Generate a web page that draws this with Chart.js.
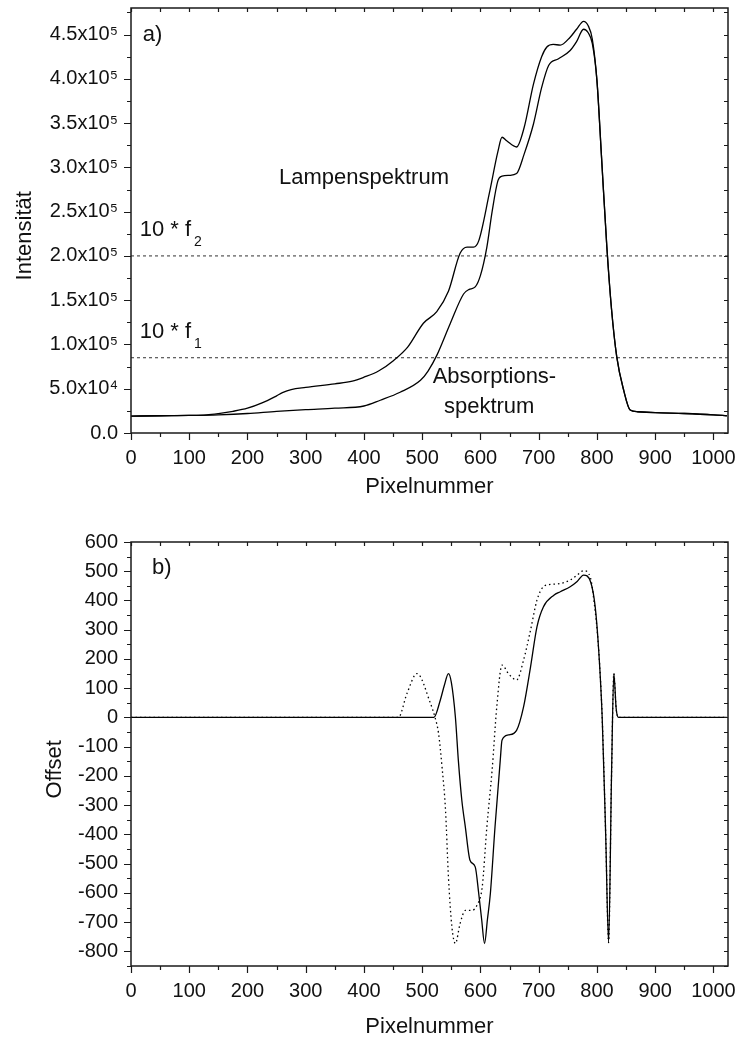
<!DOCTYPE html>
<html>
<head>
<meta charset="utf-8">
<script src="https://cdn.jsdelivr.net/npm/chart.js@4.4.1/dist/chart.umd.min.js"></script>
<style>
  body { margin: 0; background: #fff; }
  canvas { display: block; }
</style>
</head>
<body>
<canvas id="spektrum" width="737" height="500"></canvas>
<canvas id="offset" width="737" height="541"></canvas>
<script>
// a) Lampenspektrum / Absorptionsspektrum
var lampX = [0, 50, 100, 130, 150, 175, 200, 225, 250, 260, 275, 300, 350, 380, 400, 425, 451, 475, 502, 525, 545, 565, 577, 588, 597, 615, 630, 637, 645, 662, 675, 691, 705, 714, 725, 737, 754, 765, 777, 785, 792, 800, 808, 817, 825, 834, 846, 857, 870, 900, 950, 1000, 1023];
var lampY = [19000, 19500, 19800, 20500, 22000, 24500, 28000, 34000, 42000, 45500, 49000, 51500, 55500, 58500, 63000, 70000, 82000, 97000, 124000, 137000, 160000, 203000, 210000, 210000, 217000, 270000, 318000, 334000, 330000, 323000, 345000, 394000, 425000, 436000, 439000, 438000, 447000, 456000, 465000, 460000, 445000, 398000, 310000, 210000, 140000, 86000, 48000, 26000, 24000, 23000, 22000, 20500, 19500];

var absX = [0, 50, 100, 150, 200, 250, 300, 350, 400, 428, 462, 497, 510, 525, 548, 571, 580, 591, 600, 611, 620, 630, 637, 650, 662, 675, 691, 705, 717, 734, 754, 765, 777, 785, 792, 800, 808, 817, 825, 834, 846, 857, 870, 900, 950, 1000, 1023];
var absY = [19000, 19500, 19800, 20500, 22000, 24500, 26400, 28000, 30500, 37000, 46000, 59500, 70000, 87700, 123500, 157000, 162000, 165000, 178000, 210000, 250000, 285000, 290000, 291000, 293000, 315000, 349000, 390000, 415000, 422600, 432000, 442000, 456000, 452000, 440000, 398000, 310000, 210000, 140000, 86000, 48000, 26000, 24000, 23000, 22000, 20500, 19500];

var f1 = 85000;
var f2 = 200000;

// b) Offset
var offX = [0, 520, 531, 538, 545, 550, 557, 562, 568, 574, 582, 591, 597, 602, 607, 612, 617, 625, 634, 637, 648, 662, 674, 686, 697, 708, 726, 737, 754, 766, 777, 789, 797, 803, 809, 815, 820, 825, 829, 833, 837, 1023];
var offY = [0, 0, 59, 110, 150, 120, 0, -146, -283, -374, -488, -511, -602, -690, -773, -690, -602, -374, -146, -78, -60, -44, 36, 173, 310, 378, 418, 430, 447, 465, 487, 464, 378, 230, 0, -400, -770, -200, 150, 30, 0, 0];

var dotX = [0, 459, 474, 491, 514, 522, 528, 534, 540, 545, 551, 557, 565, 574, 585, 594, 603, 611, 620, 628, 637, 648, 662, 674, 686, 697, 708, 720, 737, 754, 766, 777, 789, 794, 803, 809, 815, 820, 825, 829, 833, 837, 1023];
var dotY = [0, 0, 83, 150, 49, 0, -54, -169, -317, -545, -717, -773, -705, -660, -660, -642, -580, -374, -180, 36, 179, 150, 128, 196, 299, 401, 447, 455, 458, 470, 487, 502, 476, 413, 230, 0, -400, -770, -200, 150, 30, 0, 0];

var pixelTicks = [0, 100, 200, 300, 400, 500, 600, 700, 800, 900, 1000];
var intTicks = [0, 50000, 100000, 150000, 200000, 250000, 300000, 350000, 400000, 450000];
var intTickLabels = ['0.0', '5.0x10⁴', '1.0x10⁵', '1.5x10⁵', '2.0x10⁵', '2.5x10⁵', '3.0x10⁵', '3.5x10⁵', '4.0x10⁵', '4.5x10⁵'];
var offTicks = [-800, -700, -600, -500, -400, -300, -200, -100, 0, 100, 200, 300, 400, 500, 600];

var FONT = '"Liberation Sans", Arial, sans-serif';

function pts(xs, ys) {
  return xs.map(function (x, i) { return { x: x, y: ys[i] }; });
}

// box round the plot plus major/minor tick marks
var frame = {
  id: 'frame',
  afterDraw: function (chart, args, o) {
    var ctx = chart.ctx, a = chart.chartArea;
    var xs = chart.scales.x, ys = chart.scales.y;
    ctx.save();
    ctx.strokeStyle = '#1a1a1a';
    ctx.lineWidth = 1.5;
    ctx.strokeRect(a.left, a.top, a.right - a.left, a.bottom - a.top);
    ctx.lineWidth = 1.2;
    ctx.beginPath();
    for (var v = 0; v <= xs.max; v += o.xMinor) {
      var px = Math.round(xs.getPixelForValue(v)) + 0.5;
      var big = v % o.xMajor === 0;
      ctx.moveTo(px, a.bottom); ctx.lineTo(px, a.bottom + (big ? 7 : 4));
      ctx.moveTo(px, a.top); ctx.lineTo(px, a.top + 4);
    }
    for (var w = ys.min; w <= ys.max; w += o.yMinor) {
      var py = Math.round(ys.getPixelForValue(w)) + 0.5;
      var major = w % o.yMajor === 0;
      ctx.moveTo(a.left, py); ctx.lineTo(a.left - (major ? 7 : 4), py);
      ctx.moveTo(a.right, py); ctx.lineTo(a.right - 4, py);
    }
    ctx.stroke();
    ctx.restore();
  }
};

// text labels placed in data coordinates
var notes = {
  id: 'notes',
  afterDatasetsDraw: function (chart, args, o) {
    var ctx = chart.ctx, xs = chart.scales.x, ys = chart.scales.y;
    ctx.save();
    ctx.fillStyle = '#111';
    ctx.textBaseline = 'middle';
    o.items.forEach(function (n) {
      var px = xs.getPixelForValue(n.x), py = ys.getPixelForValue(n.y);
      ctx.font = '22px ' + FONT;
      ctx.textAlign = n.align || 'left';
      ctx.fillText(n.text, px, py);
      if (n.sub) {
        var tw = ctx.measureText(n.text).width;
        ctx.font = '14px ' + FONT;
        ctx.textAlign = 'left';
        ctx.fillText(n.sub, px + tw + 3, py + 12);
      }
    });
    ctx.restore();
  }
};

function line(data, dash) {
  return {
    data: data,
    borderColor: '#000',
    borderWidth: 1.3,
    borderDash: dash || [],
    pointRadius: 0,
    fill: false,
    cubicInterpolationMode: 'monotone'
  };
}

function xScale(height, titlePad) {
  return {
    type: 'linear',
    min: 0,
    max: 1025,
    afterBuildTicks: function (s) { s.ticks = pixelTicks.map(function (v) { return { value: v }; }); },
    afterFit: function (s) { s.height = height; s.paddingLeft = 0; s.paddingRight = 0; },
    grid: { display: false, drawTicks: false },
    border: { display: false },
    ticks: {
      color: '#111', font: { size: 20, family: FONT }, padding: 13, maxRotation: 0, autoSkip: false,
      callback: function (v) { return String(v); }
    },
    title: { display: true, text: 'Pixelnummer', color: '#111', font: { size: 22, family: FONT }, padding: { top: 0, bottom: titlePad } }
  };
}

var spektrumLines = [
  line(pts(lampX, lampY)),
  line(pts(absX, absY)),
  { data: [{ x: 0, y: f2 }, { x: 1025, y: f2 }], borderColor: '#333', borderWidth: 1, borderDash: [3, 3], pointRadius: 0 },
  { data: [{ x: 0, y: f1 }, { x: 1025, y: f1 }], borderColor: '#333', borderWidth: 1, borderDash: [3, 3], pointRadius: 0 }
];

new Chart('spektrum', {
  type: 'line',
  data: { datasets: spektrumLines },
  options: {
    responsive: false,
    animation: false,
    layout: { padding: { top: 8, right: 9, left: 0, bottom: 0 } },
    plugins: {
      legend: { display: false },
      tooltip: { enabled: false },
      frame: { xMajor: 100, xMinor: 50, yMajor: 50000, yMinor: 25000 },
      notes: {
        items: [
          { text: 'a)', x: 20, y: 450000 },
          { text: '10 * f', sub: '2', x: 15, y: 229000 },
          { text: '10 * f', sub: '1', x: 15, y: 114000 },
          { text: 'Lampenspektrum', x: 400, y: 288000, align: 'center' },
          { text: 'Absorptions-', x: 624, y: 63000, align: 'center' },
          { text: 'spektrum', x: 615, y: 29300, align: 'center' }
        ]
      }
    },
    scales: {
      x: xScale(67, 0),
      y: {
        type: 'linear',
        min: 0,
        max: 480000,
        afterBuildTicks: function (s) { s.ticks = intTicks.map(function (v) { return { value: v }; }); },
        afterFit: function (s) { s.width = 131; s.paddingTop = 0; s.paddingBottom = 0; },
        grid: { display: false, drawTicks: false },
        border: { display: false },
        ticks: {
          color: '#111',
          font: { size: 20, family: FONT },
          padding: 13,
          callback: function (v) { return intTickLabels[intTicks.indexOf(v)]; }
        },
        title: { display: true, text: 'Intensität     ', color: '#111', font: { size: 22, family: FONT }, padding: { top: 12, bottom: 0 } }
      }
    }
  },
  plugins: [frame, notes]
});

new Chart('offset', {
  type: 'line',
  data: {
    datasets: [
      line(pts(offX, offY)),
      line(pts(dotX, dotY), [1.5, 3])
    ]
  },
  options: {
    responsive: false,
    animation: false,
    layout: { padding: { top: 42, right: 9, left: 0, bottom: 0 } },
    plugins: {
      legend: { display: false },
      tooltip: { enabled: false },
      frame: { xMajor: 100, xMinor: 50, yMajor: 100, yMinor: 50 },
      notes: { items: [{ text: 'b)', x: 36, y: 511 }] }
    },
    scales: {
      x: xScale(75, 1),
      y: {
        type: 'linear',
        min: -850,
        max: 600,
        afterBuildTicks: function (s) { s.ticks = offTicks.map(function (v) { return { value: v }; }); },
        afterFit: function (s) { s.width = 131; s.paddingTop = 0; s.paddingBottom = 0; },
        grid: { display: false, drawTicks: false },
        border: { display: false },
        ticks: {
          color: '#111', font: { size: 20, family: FONT }, padding: 13,
          callback: function (v) { return String(v); }
        },
        title: { display: true, text: 'Offset     ', color: '#111', font: { size: 22, family: FONT }, padding: { top: 42, bottom: 0 } }
      }
    }
  },
  plugins: [frame, notes]
});
</script>
</body>
</html>
